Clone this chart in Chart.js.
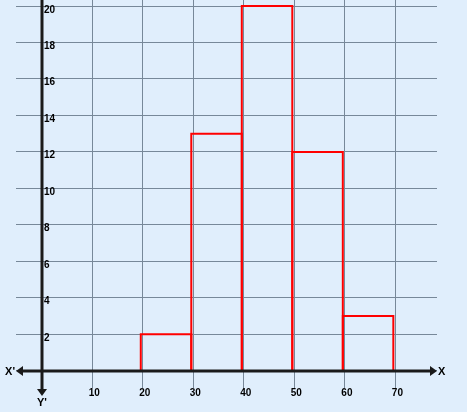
<!DOCTYPE html>
<html>
<head>
<meta charset="utf-8">
<script src="https://cdn.jsdelivr.net/npm/chart.js@4"></script>
<style>
  html, body { margin: 0; padding: 0; background: #e0eefc; }
  canvas { display: block; }
</style>
</head>
<body>
<canvas id="chart" width="467" height="412"></canvas>
<script>
// class intervals and their frequencies
const classStarts = [20, 30, 40, 50, 60];
const classEnds = [30, 40, 50, 60, 70];
const frequencies = [2, 13, 20, 12, 3];

const xTickLabels = [10, 20, 30, 40, 50, 60, 70];
const yTickLabels = [2, 4, 6, 8, 10, 12, 14, 16, 18, 20];

const BG = "#e0eefc";
const GRID = "#778899";
const AXIS = "#1a1a1a";

// each class drawn as an open rectangle outline
const datasets = classStarts.map((lo, i) => ({
  data: [
    { x: lo, y: 0 },
    { x: lo, y: frequencies[i] },
    { x: classEnds[i], y: frequencies[i] },
    { x: classEnds[i], y: 0 },
  ],
  borderColor: "#ff0000",
  borderWidth: 2,
  pointRadius: 0,
  tension: 0,
  fill: false,
}));

const background = {
  id: "background",
  beforeDraw(chart) {
    const ctx = chart.ctx;
    ctx.save();
    ctx.fillStyle = BG;
    ctx.fillRect(0, 0, chart.width, chart.height);
    ctx.restore();
  },
};

// the outlines sit a touch left of the grid in the original
const shiftBars = {
  id: "shiftBars",
  beforeDatasetsDraw(chart) {
    chart.ctx.save();
    chart.ctx.translate(-2, 0);
  },
  afterDatasetsDraw(chart) {
    chart.ctx.restore();
  },
};

const axes = {
  id: "axes",
  afterDraw(chart) {
    const ctx = chart.ctx;
    const { x, y } = chart.scales;
    const area = chart.chartArea;
    const x0 = Math.round(x.getPixelForValue(0));
    const y0 = Math.round(y.getPixelForValue(0));
    ctx.save();

    // x axis with arrows at both ends
    ctx.strokeStyle = AXIS;
    ctx.fillStyle = AXIS;
    ctx.lineWidth = 3;
    ctx.beginPath();
    ctx.moveTo(area.left + 4, y0);
    ctx.lineTo(area.right - 4, y0);
    ctx.stroke();
    ctx.beginPath();
    ctx.moveTo(area.left, y0);
    ctx.lineTo(area.left + 7, y0 - 5);
    ctx.lineTo(area.left + 7, y0 + 5);
    ctx.closePath();
    ctx.fill();
    ctx.beginPath();
    ctx.moveTo(area.right, y0);
    ctx.lineTo(area.right - 7, y0 - 5);
    ctx.lineTo(area.right - 7, y0 + 5);
    ctx.closePath();
    ctx.fill();

    // y axis pointing down
    ctx.beginPath();
    ctx.moveTo(x0, 0);
    ctx.lineTo(x0, area.bottom + 2);
    ctx.stroke();
    ctx.beginPath();
    ctx.moveTo(x0, area.bottom + 8);
    ctx.lineTo(x0 - 5, area.bottom + 1);
    ctx.lineTo(x0 + 5, area.bottom + 1);
    ctx.closePath();
    ctx.fill();

    // axis names
    ctx.fillStyle = "#000";
    ctx.font = "bold 11px 'Liberation Sans', Arial, sans-serif";
    ctx.textBaseline = "middle";
    ctx.textAlign = "right";
    ctx.fillText("X'", area.left - 1, y0 + 1);
    ctx.textAlign = "left";
    ctx.fillText("X", area.right + 1, y0 + 1);
    ctx.textAlign = "center";
    ctx.textBaseline = "top";
    ctx.fillText("Y'", x0, area.bottom + 9);

    // tick labels
    ctx.font = "bold 10px 'Liberation Sans', Arial, sans-serif";
    ctx.textBaseline = "alphabetic";
    ctx.textAlign = "left";
    xTickLabels.forEach((v) => {
      ctx.fillText(String(v), x.getPixelForValue(v) - 3.5, area.bottom + 8);
    });
    yTickLabels.forEach((v) => {
      ctx.fillText(String(v), x0 + 2, y.getPixelForValue(v) + 6.5);
    });

    ctx.restore();
  },
};

new Chart(document.getElementById("chart"), {
  type: "line",
  data: { datasets },
  options: {
    responsive: false,
    animation: false,
    layout: { padding: { left: 16, right: 30, top: 0, bottom: 24 } },
    plugins: {
      legend: { display: false },
      tooltip: { enabled: false },
    },
    scales: {
      x: {
        type: "linear",
        min: -5.1,
        max: 78.25,
        ticks: { display: false, stepSize: 10, includeBounds: false, autoSkip: false },
        grid: { color: GRID, lineWidth: 1, drawTicks: false },
        border: { display: false },
      },
      y: {
        type: "linear",
        min: -0.95,
        max: 20.33,
        ticks: { display: false, stepSize: 2, includeBounds: false, autoSkip: false },
        grid: { color: GRID, lineWidth: 1, drawTicks: false },
        border: { display: false },
      },
    },
  },
  plugins: [background, shiftBars, axes],
});
</script>
</body>
</html>
